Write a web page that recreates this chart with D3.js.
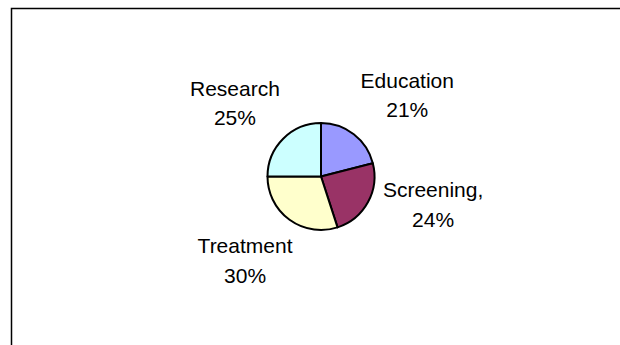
<!DOCTYPE html>
<html>
<head>
<meta charset="utf-8">
<script src="https://cdn.jsdelivr.net/npm/d3@7"></script>
<style>
  html, body { margin: 0; padding: 0; background: #fff; }
  svg { display: block; }
  text { font-family: Arial, "Liberation Sans", sans-serif; fill: #000; }
</style>
</head>
<body>
<svg id="chart" width="620" height="345"></svg>
<script>
// Funding split by area, clockwise from 12 o'clock
const categories = ["Education", "Screening", "Treatment", "Research"];
const values = [21, 24, 30, 25];
const labelNames = ["Education", "Screening,", "Treatment", "Research"];
const colors = ["#9999FF", "#993366", "#FFFFCC", "#CCFFFF"];

const svg = d3.select("#chart");

// Chart area border (open on the right and bottom)
svg.append("path")
  .attr("d", "M620,8.5H11.5V345")
  .attr("fill", "none")
  .attr("stroke", "#000")
  .attr("stroke-width", 1.5);

const cx = 321, cy = 176.5, radius = 53.5;

const color = d3.scaleOrdinal().domain(categories).range(colors);

const pie = d3.pie().sort(null).value(d => d.value)
  .startAngle(0).endAngle(2 * Math.PI);

const data = categories.map((c, i) => ({ name: c, label: labelNames[i], value: values[i] }));
const arcs = pie(data);

const arc = d3.arc().innerRadius(0).outerRadius(radius);

const g = svg.append("g").attr("transform", `translate(${cx},${cy})`);

g.selectAll("path.slice")
  .data(arcs)
  .join("path")
  .attr("class", "slice")
  .attr("d", arc)
  .attr("fill", d => color(d.data.name))
  .attr("stroke", "#000")
  .attr("stroke-width", 2)
  .attr("stroke-linejoin", "round");

// Labels placed outside the pie along each slice's mid-angle
const total = d3.sum(values);
const labelArc = d3.arc().innerRadius(radius * 2.05).outerRadius(radius * 2.05);
const labelOffsets = {
  Education: [19, 2],
  Screening: [16, -28],
  Treatment: [-11.5, -8],
  Research: [-8.5, 1]
};

const labels = g.selectAll("g.label")
  .data(arcs)
  .join("g")
  .attr("class", "label")
  .attr("transform", d => {
    const [x, y] = labelArc.centroid(d);
    const off = labelOffsets[d.data.name];
    return `translate(${x + off[0]},${y + off[1]})`;
  });

labels.append("text")
  .attr("text-anchor", "middle")
  .attr("font-size", 21)
  .attr("y", -4)
  .text(d => d.data.label);

labels.append("text")
  .attr("text-anchor", "middle")
  .attr("font-size", 21)
  .attr("y", 25.5)
  .text(d => Math.round(d.data.value / total * 100) + "%");
</script>
</body>
</html>
